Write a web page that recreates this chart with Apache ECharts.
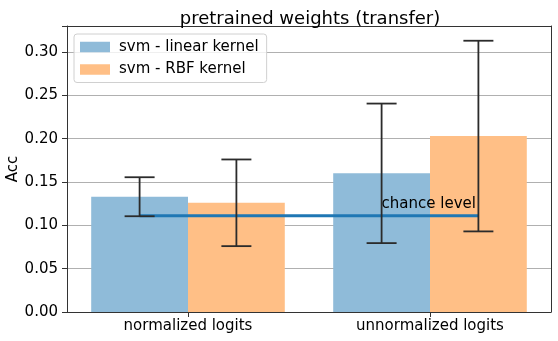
<!DOCTYPE html>
<html>
<head>
<meta charset="utf-8">
<script src="https://cdn.jsdelivr.net/npm/echarts@6/dist/echarts.min.js"></script>
<style>
  html, body { margin: 0; padding: 0; background: #fff; }
  #chart { width: 558px; height: 341px; }
</style>
</head>
<body>
<div id="chart"></div>
<script>
// ---- data ----
const categories = ['normalized logits', 'unnormalized logits'];
const linearAcc = [0.133, 0.160];
const linearErr = [0.0225, 0.0805];
const rbfAcc = [0.126, 0.203];
const rbfErr = [0.050, 0.110];
const chanceLevel = 0.111;
const chanceLabelValue = 0.12;
const chanceLabel = 'chance level';
const yTicks = [0, 0.05, 0.10, 0.15, 0.20, 0.25, 0.30];
const yMax = 0.33;

const FONT = 'DejaVu Sans';
const BAR_OFFSET = 0.2; // bar centre offset within category band

function errData(acc, err) {
  return acc.map((v, i) => [i, v - err[i], v + err[i]]);
}

function errRender(side) {
  return function (params, api) {
    const idx = api.value(0);
    const band = api.size([1, 0])[0];
    const lo = api.coord([idx, api.value(1)]);
    const hi = api.coord([idx, api.value(2)]);
    const x = lo[0] + side * band * BAR_OFFSET;
    const cap = 15;
    const style = { stroke: '#2b2b2b', lineWidth: 1.8 };
    return {
      type: 'group',
      children: [
        { type: 'line', shape: { x1: x, y1: lo[1], x2: x, y2: hi[1] }, style },
        { type: 'line', shape: { x1: x - cap, y1: lo[1], x2: x + cap, y2: lo[1] }, style },
        { type: 'line', shape: { x1: x - cap, y1: hi[1], x2: x + cap, y2: hi[1] }, style }
      ]
    };
  };
}

const chart = echarts.init(document.getElementById('chart'), null, { renderer: 'canvas' });

const option = {
  animation: false,
  backgroundColor: '#ffffff',
  title: {
    text: 'pretrained weights (transfer)',
    left: 305, top: 5, textAlign: 'center',
    textStyle: { fontFamily: FONT, fontSize: 18, fontWeight: 'normal', color: '#000' }
  },
  legend: {
    orient: 'vertical',
    left: 74, top: 34,
    padding: [4, 8, 4, 6],
    itemGap: 4.5,
    itemWidth: 30, itemHeight: 10.5,
    itemStyle: { borderWidth: 0 },
    borderColor: '#d0d0d0', borderWidth: 1, borderRadius: 3,
    backgroundColor: 'rgba(255,255,255,0.8)',
    textStyle: { fontFamily: FONT, fontSize: 15, color: '#000', lineHeight: 18, padding: [0, 0, 0, 4] },
    data: [
      { name: 'svm - linear kernel', icon: 'rect' },
      { name: 'svm - RBF kernel', icon: 'rect' }
    ]
  },
  grid: { left: 67, right: 7, top: 26, bottom: 29, containLabel: false, outerBoundsMode: 'none' },
  xAxis: [
    {
      type: 'category', data: categories, boundaryGap: true,
      axisLine: { show: true, lineStyle: { color: '#333', width: 1 } },
      axisTick: { show: true, alignWithLabel: true, length: 5, lineStyle: { color: '#333' } },
      axisLabel: { fontFamily: FONT, fontSize: 15, color: '#000', margin: 7 },
      splitLine: { show: false }
    },
    {
      type: 'category', data: categories, position: 'top',
      axisLine: { show: true, onZero: false, lineStyle: { color: '#333', width: 1 } },
      axisTick: { show: false }, axisLabel: { show: false }, splitLine: { show: false }
    }
  ],
  yAxis: [
    {
      type: 'value', min: 0, max: yMax, interval: 0.05,
      name: 'Acc', nameLocation: 'middle', nameGap: 46, nameRotate: 90,
      nameMoveOverlap: false,
      nameTextStyle: { fontFamily: FONT, fontSize: 15, color: '#000' },
      axisLine: { show: true, lineStyle: { color: '#333', width: 1 } },
      axisTick: { show: true, length: 5, lineStyle: { color: '#333' } },
      axisLabel: {
        fontFamily: FONT, fontSize: 15, color: '#000', margin: 9,
        formatter: function (v) {
          const t = yTicks.find(k => Math.abs(k - v) < 1e-9);
          return t === undefined ? '' : t.toFixed(2);
        }
      },
      splitLine: { show: true, lineStyle: { color: '#b0b0b0', width: 1 } }
    },
    {
      type: 'value', min: 0, max: yMax, position: 'right',
      axisLine: { show: true, lineStyle: { color: '#333', width: 1 } },
      axisTick: { show: false }, axisLabel: { show: false }, splitLine: { show: false }
    }
  ],
  series: [
    {
      name: 'svm - linear kernel', type: 'bar', data: linearAcc,
      barWidth: '40%', barGap: '0%',
      itemStyle: { color: '#8fbbd9' }, z: 2
    },
    {
      name: 'svm - RBF kernel', type: 'bar', data: rbfAcc,
      barWidth: '40%', barGap: '0%',
      itemStyle: { color: '#ffbf86' }, z: 2
    },
    {
      type: 'custom', name: 'chance', z: 3,
      data: [[0, categories.length - 1, chanceLevel, chanceLabelValue]],
      renderItem: function (params, api) {
        const band = api.size([1, 0])[0];
        const p0 = api.coord([api.value(0), api.value(2)]);
        const p1 = api.coord([api.value(1), api.value(2)]);
        const pt = api.coord([api.value(1), api.value(3)]);
        return {
          type: 'group',
          children: [
            { type: 'line', shape: { x1: p0[0] - band * BAR_OFFSET, y1: p0[1], x2: p1[0] + band * BAR_OFFSET, y2: p1[1] },
              style: { stroke: '#1f77b4', lineWidth: 3 } },
            { type: 'text', x: pt[0] - band * BAR_OFFSET, y: pt[1] + 3.5,
              style: { text: chanceLabel, fontFamily: FONT, fontSize: 15, fill: '#000', textAlign: 'left', textVerticalAlign: 'bottom' } }
          ]
        };
      }
    },
    {
      type: 'custom', name: 'err-linear', z: 4,
      data: errData(linearAcc, linearErr),
      renderItem: errRender(-1)
    },
    {
      type: 'custom', name: 'err-rbf', z: 4,
      data: errData(rbfAcc, rbfErr),
      renderItem: errRender(1)
    }
  ]
};

chart.setOption(option);
</script>
</body>
</html>
